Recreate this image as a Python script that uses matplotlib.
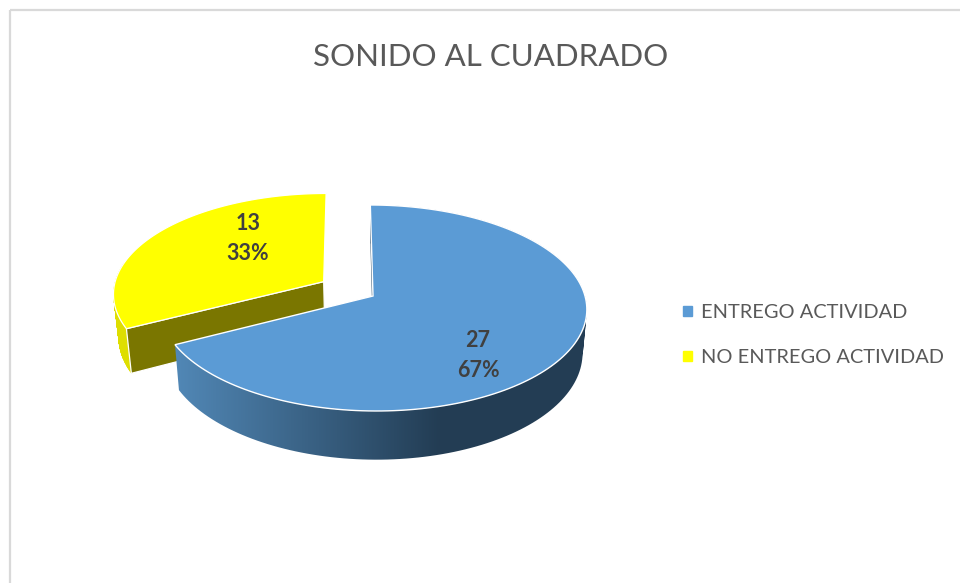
import numpy as np
import matplotlib
matplotlib.use('Agg')
import matplotlib.pyplot as plt
from matplotlib.patches import Patch, PathPatch, Polygon
from matplotlib.path import Path
from matplotlib.colors import LinearSegmentedColormap

title = 'SONIDO AL CUADRADO'
categories = ['ENTREGO ACTIVIDAD', 'NO ENTREGO ACTIVIDAD']
values = [27, 13]
percents = ['67%', '33%']
colors = ['#5B9BD5', '#FFFF00']
explode = [0.0, 0.275]

# parametros de la proyeccion, en pixeles de la imagen
X0, Y0 = 373, 296
RX, RY = 212, 101.6
PERSP = 0.1165
SHEAR = 3
DEPTH = 43
SHRINK = 0.98

plt.rcParams['font.family'] = ['Lato', 'DejaVu Sans']

fig = plt.figure(figsize=(9.6, 5.83), dpi=100)
ax = fig.add_axes([0, 0, 1, 1])


def project(u, v, bottom=False):
    u = np.asarray(u, dtype=float)
    v = np.asarray(v, dtype=float)
    w = 1 + PERSP * v
    x = (RX * u - SHEAR * v) / w
    y = -RY * v / w
    if bottom:
        x = x * SHRINK
        y = y + DEPTH / w
    return X0 + x, Y0 + y


def rim(a0, a1, off, n=160):
    t = np.radians(np.linspace(a0, a1, n))
    return np.sin(t) + off[0], np.cos(t) + off[1]


def side_path(xt, yt, xb, yb):
    # lateral como suma de cuadrilateros, todos con la misma orientacion para que no se anulen
    quads = []
    for i in range(len(xt) - 1):
        pts = [(xt[i], yt[i]), (xt[i + 1], yt[i + 1]), (xb[i + 1], yb[i + 1]), (xb[i], yb[i])]
        px, py = np.array(pts).T
        if np.dot(px, np.roll(py, -1)) - np.dot(py, np.roll(px, -1)) < 0:
            pts = pts[::-1]
        quads.append(Path(pts + [pts[0]], closed=True))
    return Path.make_compound_path(*quads)


fracs = np.array(values) / sum(values)
ends = np.cumsum(fracs) * 360
starts = ends - fracs * 360

# rebanada amarilla primero, queda detras de la azul
a0, a1 = starts[1], ends[1]
mid = np.radians((a0 + a1) / 2)
off = (explode[1] * np.sin(mid), explode[1] * np.cos(mid))
u, v = rim(a0, a1, off)
xt, yt = project(u, v)
xb, yb = project(u, v, bottom=True)
apex = project(off[0], off[1])
apex_b = project(off[0], off[1], bottom=True)
k = len(u) // 3  # solo se ve el tramo cercano del lateral
ax.add_patch(PathPatch(side_path(xt[:k], yt[:k], xb[:k], yb[:k]), fc='#DEDE00', ec='#DEDE00', lw=0.3, zorder=2))
ax.add_patch(Polygon([apex, (xt[0], yt[0]), (xb[0], yb[0]), apex_b], closed=True,
                     fc='#7A7600', ec='white', lw=0.9, zorder=3))
ax.add_patch(Polygon(list(zip(xt, yt)) + [apex], closed=True, fc=colors[1], ec='white', lw=0.9, zorder=4))

# rebanada azul
a0, a1 = starts[0], ends[0]
u, v = rim(a0, a1, (0, 0))
xt, yt = project(u, v)
xb, yb = project(u, v, bottom=True)
apex = project(0, 0)
apex_b = project(0, 0, bottom=True)

side_cmap = LinearSegmentedColormap.from_list('lado', ['#5289B8', '#233D54'])
side = ax.imshow(np.linspace(0, 1, 256).reshape(1, -1), cmap=side_cmap, aspect='auto',
                 extent=(170, 440, 480, 200), zorder=5)
side_full = ax.imshow(np.ones((1, 2)), cmap=side_cmap, vmin=0, vmax=1, aspect='auto',
                      extent=(440, 600, 480, 200), zorder=5)
band = PathPatch(side_path(xt, yt, xb, yb), fc='none', ec='none')
ax.add_patch(band)
side.set_clip_path(band)
side_full.set_clip_path(band)

ax.add_patch(Polygon([apex, (xt[0], yt[0]), (xb[0], yb[0]), apex_b], closed=True,
                     fc='#2F4F6B', ec='none', zorder=5))
ax.add_patch(Polygon(list(zip(xt, yt)) + [apex], closed=True, fc=colors[0], ec='white', lw=1.0, zorder=6))

# etiquetas de datos
ax.text(248, 224, str(values[1]), ha='center', va='center', fontsize=15.5, fontweight='bold', color='#404040', zorder=8)
ax.text(248, 254, percents[1], ha='center', va='center', fontsize=15.5, fontweight='bold', color='#404040', zorder=8)
ax.text(478, 340.5, str(values[0]), ha='center', va='center', fontsize=15.5, fontweight='bold', color='#404040', zorder=8)
ax.text(478, 370.5, percents[0], ha='center', va='center', fontsize=15.5, fontweight='bold', color='#404040', zorder=8)

ax.text(491, 57.5, title, ha='center', va='center', fontsize=22.5, color='#595959')

handles = [Patch(color=c) for c in colors]
ax.legend(handles, categories, loc='center left', bbox_to_anchor=(683, 335), bbox_transform=ax.transData,
          frameon=False, fontsize=14.4, labelcolor='#595959', handlelength=0.45, handleheight=0.45,
          handletextpad=0.45, labelspacing=1.4, borderpad=0, borderaxespad=0)

# borde del grafico
ax.plot([10, 10], [583, 10], color='#D9D9D9', lw=1.6, solid_capstyle='butt')
ax.plot([10, 960], [10, 10], color='#D9D9D9', lw=1.6, solid_capstyle='butt')

ax.set_xlim(0, 960)
ax.set_ylim(583, 0)
ax.axis('off')

fig.savefig('out.png', dpi=100)
